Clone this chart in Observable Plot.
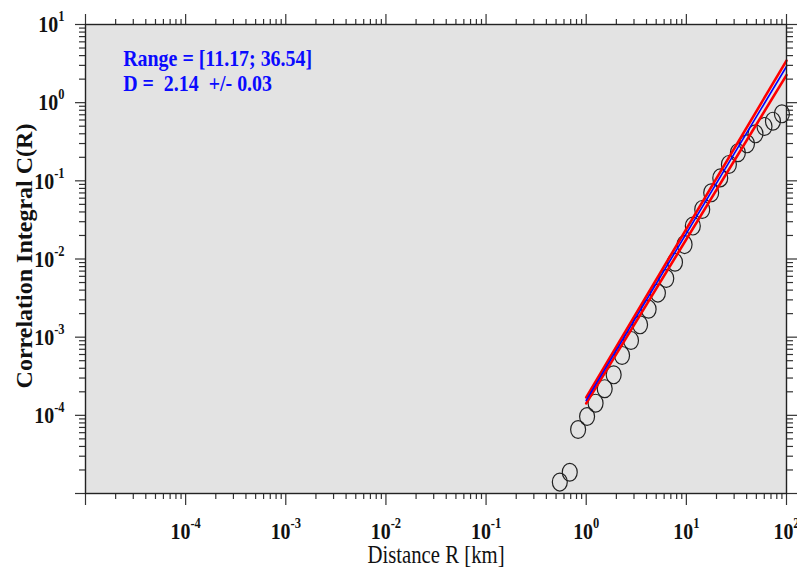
<!DOCTYPE html>
<html>
<head>
<meta charset="utf-8">
<script src="https://cdn.jsdelivr.net/npm/d3@7"></script>
<script src="https://cdn.jsdelivr.net/npm/@observablehq/plot@0.6"></script>
<style>
  html, body { margin: 0; padding: 0; background: white; }
</style>
</head>
<body>
<div id="chart"></div>
<script>
// ---- data ----
const distR = [0.545, 0.685, 0.83, 1.02, 1.24, 1.53, 1.88, 2.28, 2.8, 3.45, 4.2, 5.2, 6.3, 7.7, 9.6, 11.6, 14.4, 17.7, 21.8, 26.6, 32.7, 40.3, 49.0, 60.3, 73.2, 90.0];
const corrC = [1.40e-5, 1.87e-5, 6.59e-5, 9.66e-5, 1.43e-4, 2.19e-4, 3.30e-4, 5.83e-4, 9.08e-4, 1.44e-3, 2.28e-3, 3.66e-3, 5.63e-3, 9.10e-3, 0.0153, 0.0264, 0.0430, 0.0703, 0.109, 0.162, 0.229, 0.298, 0.400, 0.496, 0.579, 0.721];

// fitted line (blue) and its error bounds (red): endpoints
const fitX = [1.0, 100];
const fitY = [1.55e-4, 2.9];
const fitUpperY = [1.70e-4, 3.45];
const fitLowerY = [1.42e-4, 2.25];

const annotationLines = ["Range = [11.17; 36.54]", "D =  2.14  +/- 0.03"];

// axes
const xDecades = [1e-5, 1e-4, 1e-3, 1e-2, 1e-1, 1e0, 1e1, 1e2];
const yDecades = [1e-5, 1e-4, 1e-3, 1e-2, 1e-1, 1e0, 1e1];
const minorSteps = [2, 3, 4, 5, 6, 7, 8, 9];
const xTickValues = [1e-4, 1e-3, 1e-2, 1e-1, 1e0, 1e1, 1e2];
const xTickLabels = ["10^-4", "10^-3", "10^-2", "10^-1", "10^0", "10^1", "10^2"];
const yTickValues = [1e-4, 1e-3, 1e-2, 1e-1, 1e0, 1e1];
const yTickLabels = ["10^-4", "10^-3", "10^-2", "10^-1", "10^0", "10^1"];
const xTitle = "Distance R [km]";
const yTitle = "Correlation Integral C(R)";

// ---- build tables ----
const points = distR.map((r, i) => ({r, c: corrC[i]}));
const fit = fitX.map((x, i) => ({x, y: fitY[i]}));
const fitUp = fitX.map((x, i) => ({x, y: fitUpperY[i]}));
const fitLo = fitX.map((x, i) => ({x, y: fitLowerY[i]}));
const minorOf = (decs) => decs.slice(0, -1).flatMap(d => minorSteps.map(m => d * m));
const xMinor = minorOf(xDecades);
const yMinor = minorOf(yDecades);
const xLab = xTickValues.map((v, i) => ({v, t: xTickLabels[i]}));
const yLab = yTickValues.map((v, i) => ({v, t: yTickLabels[i]}));

// ellipse symbol (circles in reference appear slightly taller than wide)
const ellipse = {
  draw(ctx, size) {
    const b = Math.sqrt(size / Math.PI);
    const rx = b * 0.9, ry = b * 1.08, k = 0.5523;
    ctx.moveTo(rx, 0);
    ctx.bezierCurveTo(rx, ry * k, rx * k, ry, 0, ry);
    ctx.bezierCurveTo(-rx * k, ry, -rx, ry * k, -rx, 0);
    ctx.bezierCurveTo(-rx, -ry * k, -rx * k, -ry, 0, -ry);
    ctx.bezierCurveTo(rx * k, -ry, rx, -ry * k, rx, 0);
    ctx.closePath();
  }
};

const tickColor = "#333";
const chart = Plot.plot({
  width: 797,
  height: 573,
  marginLeft: 85,
  marginRight: 11,
  marginTop: 24,
  marginBottom: 80,
  style: {fontFamily: "'Liberation Serif', 'Times New Roman', serif", background: "white"},
  x: {type: "log", domain: [1e-5, 100], axis: null},
  y: {type: "log", domain: [1e-5, 10], axis: null},
  marks: [
    Plot.frame({fill: "#e3e3e3", stroke: null}),
    // ticks on all four sides (outward)
    Plot.axisX(xDecades, {anchor: "bottom", tickSize: 12, tickFormat: () => "", label: null, stroke: tickColor, strokeWidth: 1.2}),
    Plot.axisX(xMinor, {anchor: "bottom", tickSize: 6, tickFormat: () => "", label: null, stroke: tickColor, strokeWidth: 1.2}),
    Plot.axisX(xDecades, {anchor: "top", tickSize: 11, tickFormat: () => "", label: null, stroke: tickColor, strokeWidth: 1.2}),
    Plot.axisX(xMinor, {anchor: "top", tickSize: 6, tickFormat: () => "", label: null, stroke: tickColor, strokeWidth: 1.2}),
    Plot.axisY(yDecades, {anchor: "left", tickSize: 10, tickFormat: () => "", label: null, stroke: tickColor, strokeWidth: 1.2}),
    Plot.axisY(yMinor, {anchor: "left", tickSize: 6, tickFormat: () => "", label: null, stroke: tickColor, strokeWidth: 1.2}),
    Plot.axisY(yDecades, {anchor: "right", tickSize: 11, tickFormat: () => "", label: null, stroke: tickColor, strokeWidth: 1.2}),
    Plot.axisY(yMinor, {anchor: "right", tickSize: 6, tickFormat: () => "", label: null, stroke: tickColor, strokeWidth: 1.2}),
    // data
    Plot.dot(points, {x: "r", y: "c", r: 8.3, symbol: ellipse, stroke: "#222", strokeWidth: 1.2, fill: "none"}),
    Plot.line(fitUp, {x: "x", y: "y", stroke: "#ff0000", strokeWidth: 2.6}),
    Plot.line(fitLo, {x: "x", y: "y", stroke: "#ff0000", strokeWidth: 2.6}),
    Plot.line(fit, {x: "x", y: "y", stroke: "#0000ff", strokeWidth: 1.6}),
    Plot.frame({stroke: "#222", strokeWidth: 1.4}),
    // tick labels
    Plot.text(xLab, {x: "v", text: "t", frameAnchor: "bottom", dy: 45, lineAnchor: "bottom", textAnchor: "middle", fontSize: 24, fontWeight: "bold", fill: "#111"}),
    Plot.text(yLab, {y: "v", text: "t", frameAnchor: "left", dx: -21, lineAnchor: "middle", textAnchor: "end", fontSize: 24, fontWeight: "bold", fill: "#111"}),
    // axis titles
    Plot.text([xTitle], {frameAnchor: "bottom", dy: 69, lineAnchor: "bottom", textAnchor: "middle", fontSize: 25, fill: "#111"}),
    Plot.text([yTitle], {frameAnchor: "left", dx: -54, dy: -3, rotate: -90, lineAnchor: "bottom", textAnchor: "middle", fontSize: 24, fontWeight: "bold", fill: "#111"}),
    // annotation
    Plot.text([annotationLines[0]], {frameAnchor: "top-left", dx: 37.7, dy: 41, lineAnchor: "bottom", textAnchor: "start", fontSize: 24, fontWeight: "bold", fill: "#0a0aff"}),
    Plot.text([annotationLines[1]], {frameAnchor: "top-left", dx: 37.7, dy: 66, lineAnchor: "bottom", textAnchor: "start", fontSize: 24, fontWeight: "bold", fill: "#0a0aff"})
  ]
});

document.getElementById("chart").appendChild(chart);
const svg = chart.tagName.toLowerCase() === "svg" ? chart : chart.querySelector("svg");
const NS = "http://www.w3.org/2000/svg";

const texts = Array.from(svg.querySelectorAll("text")).filter(t => t.textContent.trim() !== "");
texts.forEach(t => {
  const s = t.textContent;
  // superscripts for tick labels
  if (s.includes("^")) {
    const [base, exp] = s.split("^");
    t.textContent = base;
    const ts = document.createElementNS(NS, "tspan");
    ts.setAttribute("dy", "-11");
    ts.setAttribute("font-size", "15");
    ts.textContent = exp;
    t.appendChild(ts);
  }
  // preserve double spaces
  if (s.includes("  ")) {
    t.setAttribute("xml:space", "preserve");
    t.style.whiteSpace = "pre";
  }
  // the reference's horizontal text is condensed
  const tr = t.getAttribute("transform") || "";
  if (/rotate/.test(tr)) return;
  const sx = 0.83;
  if (t.hasAttribute("x")) t.setAttribute("x", +t.getAttribute("x") / sx);
  t.setAttribute("transform", (tr ? tr + " " : "") + `scale(${sx},1)`);
});
</script>
</body>
</html>
